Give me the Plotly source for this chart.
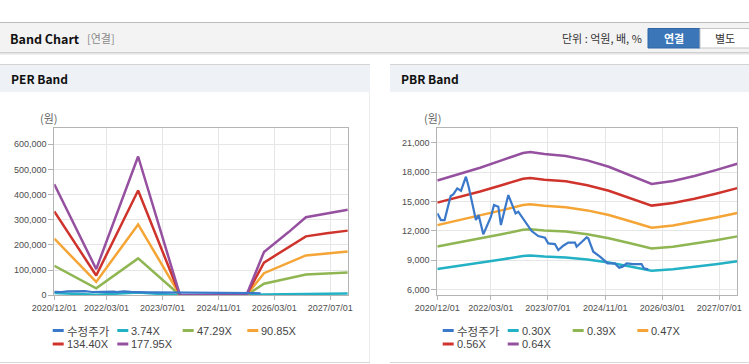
import plotly.graph_objects as go

W, H = 749, 364

# ---------------- data ----------------
price_name = "수정주가"
price_dates = ["2020-12-01", "2021-01-01", "2021-02-01", "2021-03-25", "2021-04-16", "2021-05-20",
               "2021-06-21", "2021-08-02", "2021-08-25", "2021-10-26", "2021-11-18", "2021-12-28",
               "2022-03-03", "2022-03-29", "2022-05-05", "2022-05-27", "2022-07-29", "2022-09-29",
               "2022-10-22", "2022-12-04", "2023-01-15", "2023-02-13", "2023-04-10", "2023-06-06",
               "2023-07-04", "2023-08-30", "2023-09-28", "2023-11-09", "2023-12-22", "2024-02-17",
               "2024-03-02", "2024-04-13", "2024-05-26", "2024-06-09", "2024-07-22", "2024-09-17",
               "2024-11-21", "2025-01-22", "2025-02-28", "2025-03-29", "2025-05-02", "2025-06-28",
               "2025-09-06", "2025-09-26", "2025-11-02"]
price_values = [13790, 13110, 13110, 15560, 15730, 16340, 16100, 17530, 16510, 13110,
                13620, 11650, 13450, 14640, 14470, 12600, 15660, 13790, 13960, 13180,
                12430, 11990, 11480, 11310, 10730, 10660, 10050, 10490, 10800, 10800,
                10390, 10900, 11340, 11240, 9880, 9370, 8690, 8690, 8250, 8350,
                8690, 8620, 8620, 8180, 8080]

# PER band
per_dates = ["2020-12-01", "2021-12-01", "2022-12-01", "2023-12-01", "2024-12-01", "2025-07-01",
             "2025-12-01", "2026-03-01", "2026-07-01", "2026-12-01", "2027-06-01", "2027-12-01"]
per_names = ["3.74X", "47.29X", "90.85X", "134.40X", "177.95X"]
per_3_74 = [9270, 2190, 11580, 0, 0, 0, 3620, 4310, 5260, 6520, 6850, 7150]
per_47_29 = [117200, 27600, 146400, 0, 0, 0, 45700, 54500, 66400, 82400, 86600, 90300]
per_90_85 = [225100, 53100, 281300, 0, 0, 0, 87800, 104700, 127600, 158300, 166400, 173600]
per_134_40 = [333100, 78550, 416200, 0, 0, 0, 129900, 154800, 188800, 234100, 246200, 256800]
per_177_95 = [441000, 104000, 551000, 0, 0, 0, 172000, 205000, 250000, 310000, 326000, 340000]

# PBR band
pbr_dates = ["2020-12-01", "2021-06-01", "2021-12-01", "2022-06-01", "2022-12-01", "2023-02-01",
             "2023-06-01", "2023-12-01", "2024-06-01", "2024-12-01", "2025-06-01", "2025-12-01",
             "2026-06-01", "2026-12-01", "2027-06-01", "2027-12-01"]
pbr_names = ["0.30X", "0.39X", "0.47X", "0.56X", "0.64X"]
pbr_0_30 = [8112, 8419, 8727, 9082, 9436, 9484, 9389, 9294, 9082, 8774, 8372, 7946, 8088, 8325, 8609, 8916]
pbr_0_39 = [10410, 10805, 11199, 11654, 12110, 12170, 12049, 11928, 11654, 11260, 10744, 10198, 10380, 10683, 11047, 11442]
pbr_0_47 = [12588, 13065, 13542, 14093, 14643, 14717, 14570, 14423, 14093, 13616, 12992, 12331, 12551, 12918, 13359, 13836]
pbr_0_56 = [14886, 15450, 16015, 16666, 17317, 17403, 17230, 17056, 16666, 16101, 15364, 14582, 14843, 15277, 15798, 16362]
pbr_0_64 = [17150, 17800, 18450, 19200, 19950, 20050, 19850, 19650, 19200, 18550, 17700, 16800, 17100, 17600, 18200, 18850]

x_tickvals = ["2020-12-01", "2022-03-01", "2023-07-01", "2024-11-01", "2026-03-01", "2027-07-01"]
x_ticktext = ["2020/12/01", "2022/03/01", "2023/07/01", "2024/11/01", "2026/03/01", "2027/07/01"]
x_range = ["2020-12-01", "2027-12-01"]
per_yticks = [0, 100000, 200000, 300000, 400000, 500000, 600000]
pbr_yticks = [6000, 9000, 12000, 15000, 18000, 21000]

price_color = "#3a78c9"
band_colors = ["#22b1c5", "#8fb652", "#f5a535", "#cf342c", "#95519f"]

# ---------------- helpers ----------------
def px(x):
    return x / W

def py(y):
    return 1 - y / H

FONT = "Liberation Sans, Arial, Noto Sans CJK KR, sans-serif"
KFONT = "Noto Sans CJK KR, Liberation Sans, sans-serif"

fig = go.Figure()

per_series = [per_3_74, per_47_29, per_90_85, per_134_40, per_177_95]
pbr_series = [pbr_0_30, pbr_0_39, pbr_0_47, pbr_0_56, pbr_0_64]

for vals, name, col in zip(per_series, per_names, band_colors):
    fig.add_trace(go.Scatter(x=per_dates, y=vals, name=name, mode="lines",
                             line=dict(color=col, width=2.5), xaxis="x", yaxis="y",
                             showlegend=False, hoverinfo="skip"))
fig.add_trace(go.Scatter(x=price_dates, y=price_values, name=price_name, mode="lines",
                         line=dict(color=price_color, width=2.2), xaxis="x", yaxis="y",
                         showlegend=False, hoverinfo="skip"))

for vals, name, col in zip(pbr_series, pbr_names, band_colors):
    fig.add_trace(go.Scatter(x=pbr_dates, y=vals, name=name, mode="lines",
                             line=dict(color=col, width=2.5), xaxis="x2", yaxis="y2",
                             showlegend=False, hoverinfo="skip"))
fig.add_trace(go.Scatter(x=price_dates, y=price_values, name=price_name, mode="lines",
                         line=dict(color=price_color, width=2.2), xaxis="x2", yaxis="y2",
                         showlegend=False, hoverinfo="skip"))

axis_common = dict(showline=True, linecolor="#b4b4b4", linewidth=1, mirror=True,
                   gridcolor="#e6e6e6", gridwidth=1, zeroline=False, automargin=False,
                   ticks="outside", tickcolor="#b4b4b4",
                   tickfont=dict(family=FONT, size=9, color="#4d4d4d"))

xaxis_common = dict(axis_common, type="date", range=x_range, tickmode="array",
                    tickvals=x_tickvals, ticktext=x_ticktext, ticklen=4)

fig.update_layout(
    width=W, height=H, autosize=False,
    margin=dict(l=0, r=0, t=0, b=0, pad=0, autoexpand=False),
    paper_bgcolor="white", plot_bgcolor="white",
    xaxis=dict(xaxis_common, domain=[px(54.3), px(347.8)], anchor="y"),
    yaxis=dict(axis_common, domain=[py(295.3), py(128.3)], anchor="x",
               range=[0, 663000], tickmode="array", tickvals=per_yticks,
               tickformat=",", ticklen=5),
    xaxis2=dict(xaxis_common, domain=[px(437.3), px(737.3)], anchor="y2"),
    yaxis2=dict(axis_common, domain=[py(295.3), py(128.3)], anchor="x2",
                range=[5430, 22470], tickmode="array", tickvals=pbr_yticks,
                tickformat=",", ticklen=5),
    showlegend=False,
)

shapes = []
annotations = []

def rect(x0, y0, x1, y1, fill, line=None, lw=1):
    shapes.append(dict(type="rect", xref="paper", yref="paper",
                       x0=px(x0), x1=px(x1), y0=py(y1), y1=py(y0),
                       fillcolor=fill, line=dict(color=line or fill, width=lw if line else 0),
                       layer="below"))

def hline(x0, x1, y, color, width=1):
    shapes.append(dict(type="line", xref="paper", yref="paper",
                       x0=px(x0), x1=px(x1), y0=py(y), y1=py(y),
                       line=dict(color=color, width=width)))

def vline(x, y0, y1, color, width=1):
    shapes.append(dict(type="line", xref="paper", yref="paper",
                       x0=px(x), x1=px(x), y0=py(y0), y1=py(y1),
                       line=dict(color=color, width=width)))

def text(x, y, s, size=11, color="#333333", anchor="left", bold=False, family=KFONT):
    if bold:
        s = "<b>" + s + "</b>"
    annotations.append(dict(x=px(x), y=py(y), xref="paper", yref="paper", text=s,
                            showarrow=False, xanchor=anchor, yanchor="middle",
                            font=dict(family=family, size=size, color=color), borderpad=0))

# top header bar
rect(0, 22, 749, 52, "#f3f3f3")
hline(0, 749, 22.5, "#bcbcbc", 1)
hline(0, 749, 52.5, "#cfcfcf", 1)
hline(0, 749, 53.5, "#e4e4e4", 1)
hline(0, 749, 54.5, "#f1f1f1", 1)
text(9, 38.5, "Band Chart", size=12.5, color="#111111", bold=True)
text(86, 38.5, "[연결]", size=11, color="#8a8a8a")
text(643, 38.5, "단위 : 억원, 배, %", size=11, color="#333333", anchor="right")
rect(648, 28.5, 700, 48, "#3b76b8", line="#2f66a3")
text(674, 38.5, "연결", size=11, color="#ffffff", anchor="center", bold=True)
rect(700, 28.5, 752, 48, "#ffffff", line="#c4c4c4")
text(725, 38.5, "별도", size=11, color="#333333", anchor="center")

# panel headers
for x0, x1, title in [(0, 370, "PER Band"), (390, 749, "PBR Band")]:
    rect(x0, 64, x1, 92, "#eef1f6")
    hline(x0, x1, 64.5, "#d3d3d3", 1)
    hline(x0, x1, 362.5, "#d8d8d8", 1)
    text(x0 + 10, 78.5, title, size=12, color="#111111", bold=True)
vline(369.5, 92, 362, "#ececec")

# y unit labels
text(49, 118, "(원)", size=11, color="#666666", anchor="center")
text(432.5, 118, "(원)", size=11, color="#666666", anchor="center")

# manual legends
def legend(items, positions):
    for (name, col), (lx, ly) in zip(items, positions):
        shapes.append(dict(type="line", xref="paper", yref="paper",
                           x0=px(lx), x1=px(lx + 11), y0=py(ly), y1=py(ly),
                           line=dict(color=col, width=3)))
        text(lx + 13, ly, name, size=11.5 if name == price_name else 11,
             color="#444444", family=KFONT if name == price_name else FONT)

per_items = [(price_name, price_color)] + list(zip(per_names, band_colors))
pbr_items = [(price_name, price_color)] + list(zip(pbr_names, band_colors))
left_pos = [(52.7, 330.5), (117.3, 330.5), (182.7, 330.5), (247.3, 330.5), (52.7, 344), (117.3, 344)]
right_pos = [(442.7, 330.5), (507.7, 330.5), (572.7, 330.5), (637.3, 330.5), (442.7, 344), (507.7, 344)]
legend(per_items, left_pos)
legend(pbr_items, right_pos)

fig.update_layout(shapes=shapes, annotations=annotations)

fig.write_html("out.html", config={"displayModeBar": False},
               post_script="document.body.style.margin='0';")
